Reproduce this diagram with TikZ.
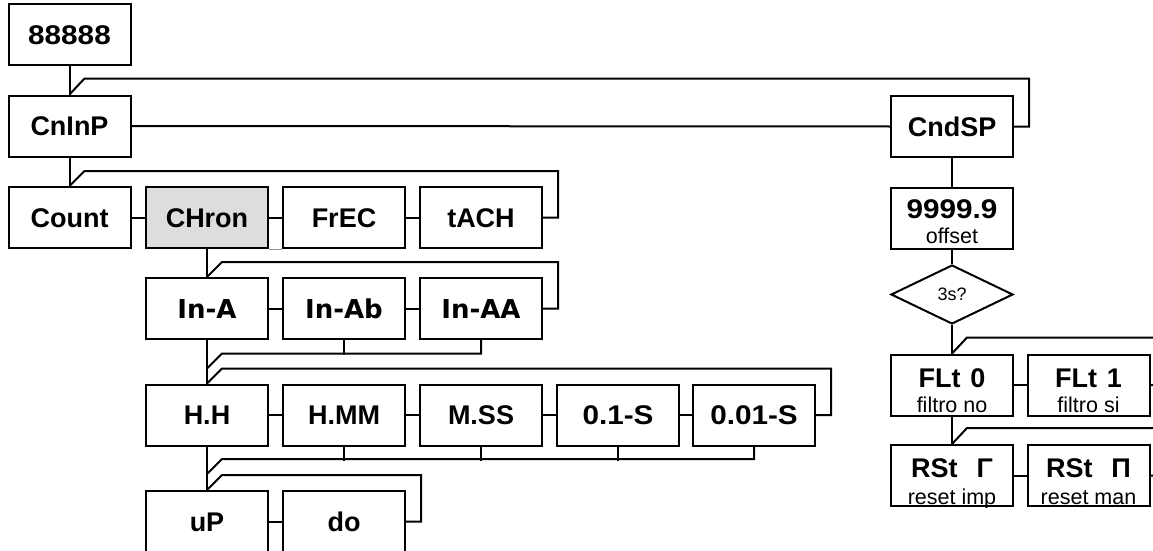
\documentclass[tikz,border=0pt]{standalone}
\usepackage{fontspec}
\setmainfont{Liberation Sans}
\newfontfamily\djv{DejaVu Sans}
\usetikzlibrary{shapes.geometric}
\definecolor{hl}{RGB}{221,221,221}
\definecolor{ghost}{RGB}{150,150,150}
\newcommand{\widedigits}[1]{\scalebox{1.1}[1]{#1}}
\tikzset{
  box/.style={draw, line width=2pt, minimum width=122pt, minimum height=61pt, inner sep=0pt, text height=19.3pt, text depth=0pt, font=\fontsize{27}{32}\selectfont\bfseries},
  inbox/.style={box, text height=19pt, font=\fontsize{26}{30}\djv\bfseries},
  wire/.style={line width=2pt},
  big/.style={font=\fontsize{27}{32}\selectfont\bfseries, inner sep=0pt, anchor=base},
  sub/.style={font=\fontsize{21.5}{25}\selectfont, inner sep=0pt, anchor=base},
  decision/.style={draw, diamond, line width=2pt, minimum width=122pt, minimum height=59pt, inner sep=0pt, font=\fontsize{18}{21}\selectfont},
}
\begin{document}
\begin{tikzpicture}[x=1pt,y=-1pt]
\clip (0,0) rectangle (1153,551);
\fill[white] (0,0) rectangle (1153,551);

% left column
\node[box] (top) at (69.5,35) {\widedigits{88888}};
\node[box] (cninp) at (69.5,126) {CnInP};
\node[box] (count) at (69.5,217.5) {Count};
\node[box, fill=hl] (chron) at (207,217.5) {CHron};
\node[box] (frec) at (344,217.5) {FrEC};
\node[box] (tach) at (481,217.5) {tACH};

\node[inbox] (ina) at (207,308.5) {In-A};
\node[inbox] (inab) at (344,308.5) {In-Ab};
\node[inbox] (inaa) at (481,308.5) {In-AA};

\node[box] (hh) at (207,415) {H.H};
\node[box] (hmm) at (344,415) {H.MM};
\node[box] (mss) at (481,415) {M.SS};
\node[box] (sa) at (618,415) {\widedigits{0.1-S}};
\node[box] (sb) at (754,415) {\widedigits{0.01-S}};

\node[box] (up) at (207,521.5) {uP};
\node[box] (do) at (344,521.5) {do};

% right column
\node[box] (cndsp) at (952,126.5) {CndSP};
\node[box] (off) at (952,218.5) {};
\node[big] (offm) at (952,218) {\widedigits{9999.9}};
\node[sub] (offs) at (952,243) {offset};
\node[decision] (dia) at (952,294.5) {3s?};
\node[box] (flt0) at (952,385) {};
\node[big] (flt0m) at (952,387) {FLt\hspace{10pt}0};
\node[sub] (flt0s) at (952,412) {filtro no};
\node[box] (flt1) at (1088.5,385) {};
\node[big] (flt1m) at (1088.5,387) {FLt\hspace{10pt}1};
\node[sub] (flt1s) at (1088.5,412) {filtro si};
\node[box] (rst0) at (952,475.5) {};
\node[big] (rst0m) at (952,477) {RSt\hspace{19pt}Γ};
\node[box] (rst1) at (1088.5,475.5) {};
\node[big] (rst1m) at (1088.5,477) {RSt\hspace{19pt}Π};
\begin{scope}
  \clip (rst0.south west) rectangle (rst0.north east);
  \node[sub] (rst0s) at (952,504) {reset imp};
\end{scope}
\begin{scope}
  \clip (rst1.south west) rectangle (rst1.north east);
  \node[sub] (rst1s) at (1088.5,504) {reset man};
\end{scope}

% helper coordinates
\coordinate (jin) at ([yshift=-15pt]ina.south);
\coordinate (jh) at ([yshift=-14pt]hh.south);

% connectors: top and CnInP row
\draw[wire] (top.south) -- (cninp.north);
\draw[wire] (cninp.east) -- (cndsp.west);
\draw[wire] (cndsp.east) -- ++(15,0) |- ([shift={(15pt,16pt)}]cninp.north) -- (cninp.north);

% Count row
\draw[wire] (cninp.south) -- (count.north);
\draw[wire] (count.east) -- (chron.west);
\draw[wire] (chron.east) -- (frec.west);
\draw[wire] (frec.east) -- (tach.west);
\draw[wire] (tach.east) -- ++(15,0) |- ([shift={(15pt,15pt)}]count.north) -- (count.north);
\draw[ghost, line width=1pt] (chron.south east) -- (frec.south west);

% In row
\draw[wire] (chron.south) -- (ina.north);
\draw[wire] (ina.east) -- (inab.west);
\draw[wire] (inab.east) -- (inaa.west);
\draw[wire] (inaa.east) -- ++(15,0) |- ([shift={(15pt,15pt)}]ina.north) -- (ina.north);
\draw[wire] (ina.south) -- (hh.north);
\draw[wire] ([yshift=15pt]hh.north) -- ++(15pt,15pt) -| (inaa.south);
\draw[wire] (inab.south) -- (inab.south |- jin);

% H row
\draw[wire] (hh.east) -- (hmm.west);
\draw[wire] (hmm.east) -- (mss.west);
\draw[wire] (mss.east) -- (sa.west);
\draw[wire] (sa.east) -- (sb.west);
\draw[wire] (sb.east) -- ++(15,0) |- ([shift={(15pt,15pt)}]hh.north) -- (hh.north);
\draw[wire] (hh.south) -- (up.north);
\draw[wire] ([yshift=16pt]up.north) -- ++(15pt,15pt) -| (sb.south);
\draw[wire] (hmm.south) -- (hmm.south |- jh);
\draw[wire] (mss.south) -- (mss.south |- jh);
\draw[wire] (sa.south) -- (sa.south |- jh);

% uP row
\draw[wire] (up.east) -- (do.west);
\draw[wire] (do.east) -- ++(15,0) |- ([shift={(15pt,15pt)}]up.north) -- (up.north);

% right column
\draw[wire] (cndsp.south) -- (off.north);
\draw[wire] (off.south) -- (dia.north);
\draw[wire] (dia.south) -- (flt0.north);
\draw[wire] (flt0.east) -- (flt1.west);
\draw[wire] (flt1.east) -- ++(15,0) |- ([shift={(15pt,16pt)}]flt0.north) -- (flt0.north);
\draw[wire] (flt0.south) -- (rst0.north);
\draw[wire] (rst0.east) -- (rst1.west);
\draw[wire] (rst1.east) -- ++(15,0) |- ([shift={(15pt,16pt)}]rst0.north) -- (rst0.north);
\end{tikzpicture}
\end{document}
